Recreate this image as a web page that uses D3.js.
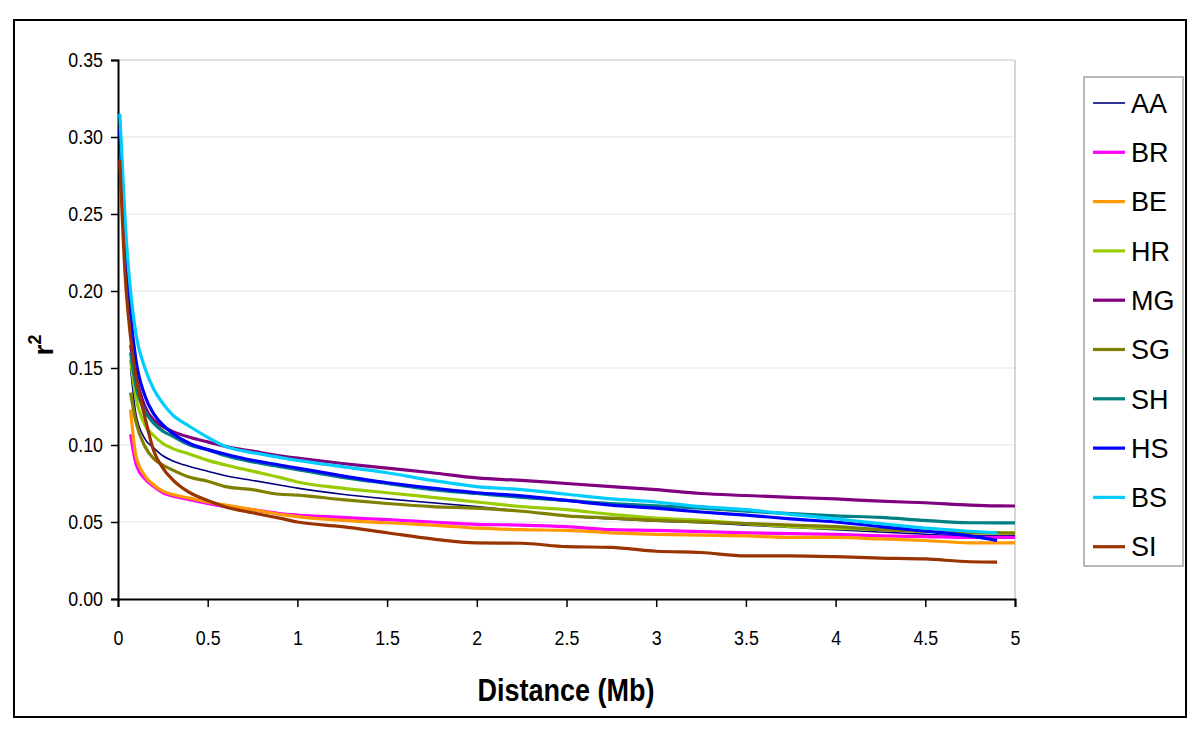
<!DOCTYPE html>
<html><head><meta charset="utf-8">
<script src="https://cdn.jsdelivr.net/npm/d3@7/dist/d3.min.js"></script>
<style>body{margin:0;background:#fff}svg{display:block}text{font-family:"Liberation Sans",Arial,sans-serif}</style>
</head><body><svg id="c" width="1200" height="737"></svg>
<script>
const distance = [0.01,0.04,0.07,0.1,0.15,0.2,0.25,0.3,0.4,0.5,0.6,0.75,0.9,1.0,1.25,1.5,1.75,2.0,2.25,2.5,2.75,3.0,3.25,3.5,3.75,4.0,4.25,4.5,4.75,4.9,5.0];
const seriesNames = ["AA","BR","BE","HR","MG","SG","SH","HS","BS","SI"];
const seriesColors = ["#000080","#FF00FF","#FF9900","#99CC00","#800080","#808000","#008080","#0000FF","#00CCFF","#993300"];
const AA = [null,null,0.15,0.12,0.104,0.098,0.093,0.09,0.086,0.083,0.08,0.077,0.074,0.072,0.068,0.065,0.0625,0.06,0.057,0.054,0.052,0.0505,0.0495,0.048,0.0465,0.045,0.0435,0.042,0.041,0.041,0.041];
const BR = [null,null,0.107,0.088,0.078,0.073,0.069,0.067,0.0645,0.062,0.06,0.058,0.0555,0.0545,0.053,0.0515,0.05,0.0485,0.048,0.047,0.045,0.0445,0.0438,0.043,0.0425,0.042,0.041,0.0405,0.04,0.04,0.04];
const BE = [null,null,0.123,0.093,0.08,0.074,0.07,0.068,0.0655,0.063,0.061,0.058,0.055,0.0535,0.051,0.0495,0.048,0.046,0.045,0.0445,0.043,0.042,0.0415,0.041,0.04,0.04,0.039,0.038,0.0365,0.0364,0.0364];
const HR = [null,null,0.155,0.131,0.113,0.106,0.101,0.098,0.094,0.09,0.087,0.083,0.079,0.076,0.072,0.069,0.066,0.063,0.06,0.058,0.055,0.0525,0.051,0.049,0.047,0.046,0.045,0.044,0.043,0.043,0.043];
const MG = [null,null,0.165,0.145,0.125,0.116,0.112,0.109,0.105,0.102,0.099,0.096,0.093,0.0915,0.088,0.085,0.082,0.0786,0.077,0.075,0.073,0.071,0.0685,0.0672,0.066,0.065,0.0635,0.0625,0.061,0.0605,0.0604];
const SG = [null,null,0.134,0.115,0.099,0.091,0.087,0.084,0.079,0.0765,0.073,0.071,0.068,0.0675,0.0645,0.062,0.06,0.059,0.057,0.054,0.0525,0.051,0.05,0.049,0.048,0.047,0.045,0.044,0.043,0.043,0.0428];
const SH = [null,null,0.16,0.138,0.122,0.114,0.109,0.106,0.1,0.097,0.093,0.089,0.086,0.084,0.079,0.075,0.071,0.0685,0.066,0.064,0.062,0.0605,0.059,0.057,0.0555,0.054,0.053,0.051,0.0495,0.0494,0.0494];
const HS = [0.305,0.235,0.185,0.155,0.132,0.12,0.113,0.108,0.101,0.097,0.094,0.09,0.087,0.085,0.08,0.0755,0.072,0.069,0.067,0.064,0.061,0.059,0.0565,0.0545,0.052,0.05,0.047,0.044,0.041,0.038,null];
const BS = [0.315,0.245,0.2,0.172,0.15,0.136,0.127,0.12,0.112,0.105,0.099,0.095,0.092,0.09,0.086,0.082,0.077,0.073,0.071,0.068,0.065,0.063,0.06,0.058,0.055,0.052,0.049,0.046,0.044,0.043,null];
const SI = [0.285,0.21,0.17,0.145,0.118,0.096,0.085,0.078,0.069,0.064,0.0598,0.056,0.0525,0.05,0.047,0.043,0.039,0.0364,0.0362,0.034,0.0335,0.031,0.0302,0.028,0.028,0.0275,0.0266,0.026,0.0242,0.024,null];
const seriesValues = [AA,BR,BE,HR,MG,SG,SH,HS,BS,SI];
const xTicks = [0,0.5,1,1.5,2,2.5,3,3.5,4,4.5,5];
const yTicks = [0,0.05,0.1,0.15,0.2,0.25,0.3,0.35];

const svg = d3.select("#c");
svg.append("rect").attr("x",14).attr("y",20).attr("width",1172).attr("height",697)
  .attr("fill","#fff").attr("stroke","#000").attr("stroke-width",2);

const x = d3.scaleLinear().domain([0,5]).range([118,1015]);
const y = d3.scaleLinear().domain([0,0.35]).range([599,60]);

// gridlines
svg.append("g").selectAll("line").data(yTicks.filter(d=>d>0)).join("line")
  .attr("x1",x(0)).attr("x2",x(5)).attr("y1",d=>y(d)).attr("y2",d=>y(d))
  .attr("stroke",d=>d===0.35?"#c8c8c8":"#e4e4e4").attr("stroke-width",1.2);
svg.append("line").attr("x1",x(5)).attr("x2",x(5)).attr("y1",y(0.35)).attr("y2",y(0))
  .attr("stroke","#c8c8c8").attr("stroke-width",1.5);

// axes
const sx = 0.85;
const xAxis = svg.append("g").attr("transform",`translate(0,${y(0)})`)
  .call(d3.axisBottom(x).tickValues(xTicks).tickSize(8).tickPadding(23).tickFormat(d=>String(d)));
const yAxis = svg.append("g").attr("transform",`translate(${x(0)},0)`)
  .call(d3.axisLeft(y).tickValues(yTicks).tickSize(7).tickPadding(8).tickFormat(d3.format(".2f")));
[xAxis,yAxis].forEach(g=>{
  g.select(".domain").attr("stroke","#000").attr("stroke-width",2);
  g.selectAll(".tick line").attr("stroke","#000").attr("stroke-width",1.5);
  g.selectAll(".tick text").attr("font-size",21).attr("fill","#000")
    .attr("font-family","Liberation Sans, Arial, sans-serif")
    .attr("transform",`scale(${sx},1)`);
});
yAxis.selectAll(".tick text").attr("x",-15/sx);

// lines
const line = d3.line().defined(d=>d[1]!==null).x(d=>x(d[0])).y(d=>y(d[1])).curve(d3.curveMonotoneX);
seriesNames.forEach((n,i)=>{
  const pts = distance.map((dd,j)=>[dd,seriesValues[i][j]]);
  svg.append("path").datum(pts).attr("d",line).attr("fill","none")
    .attr("stroke",seriesColors[i]).attr("stroke-width",n==="AA"?1.6:3.2)
    .attr("stroke-linejoin","round");
});

// axis titles
svg.append("text").attr("x",566).attr("y",701).attr("text-anchor","middle")
  .attr("font-size",32).attr("font-weight","bold")
  .attr("textLength",177).attr("lengthAdjust","spacingAndGlyphs").text("Distance (Mb)");
const yt = svg.append("text").attr("transform","translate(53,345) rotate(-90)")
  .attr("text-anchor","middle").attr("font-size",28).attr("font-weight","bold");
yt.append("tspan").text("r");
yt.append("tspan").attr("font-size",18).attr("dy",-12).text("2");

// legend
const lg = svg.append("g");
lg.append("rect").attr("x",1084).attr("y",77).attr("width",99).attr("height",489)
  .attr("fill","#fff").attr("stroke","#a0a0a0").attr("stroke-width",1.5);
seriesNames.forEach((n,i)=>{
  const cy = 103 + i*49.3;
  lg.append("line").attr("x1",1093).attr("x2",1125).attr("y1",cy).attr("y2",cy)
    .attr("stroke",seriesColors[i]).attr("stroke-width",n==="AA"?1.6:3.2);
  lg.append("text").attr("x",1131).attr("y",cy).attr("dy","0.36em")
    .attr("font-size",27).text(n);
});
</script></body></html>
